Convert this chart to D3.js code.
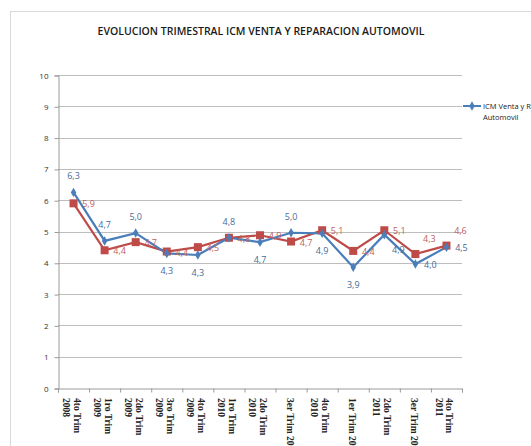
<!DOCTYPE html>
<meta charset="utf-8">
<style>
body { margin: 0; background: #fff; }
svg text { font-family: "Open Sans", "Liberation Sans", sans-serif; }
.xlab text { font-family: "Liberation Serif", "DejaVu Serif", serif; }
</style>
<svg width="531" height="446"></svg>
<script src="https://d3js.org/d3.v7.min.js"></script>
<script>

var categories = [
  ["4to Trim", "2008"], ["1ro Trim", "2009"], ["2do Trim", "2009"], ["3ro Trim", "2009"],
  ["4to Trim", "2009"], ["1ro Trim", "2010"], ["2do Trim", "2010"], ["3er Trim 2010"],
  ["4to Trim", "2010"], ["1er Trim 2011"], ["2do Trim", "2011"], ["3er Trim 2011"],
  ["4to Trim", "2011"]
];
var blueValues = [6.25, 4.7, 4.95, 4.3, 4.25, 4.8, 4.66, 4.96, 4.94, 3.86, 4.9, 3.96, 4.5];
var blueLabels = ["6,3", "4,7", "5,0", "4,3", "4,3", "4,8", "4,7", "5,0", "4,9", "3,9", "4,9", "4,0", "4,5"];
var redValues = [5.9, 4.4, 4.66, 4.36, 4.5, 4.8, 4.88, 4.68, 5.04, 4.38, 5.04, 4.28, 4.55];
var redLabels = ["5,9", "4,4", "4,7", "4,4", "4,5", "4,8", "4,9", "4,7", "5,1", "4,4", "5,1", "4,3", "4,6"];
var yTicks = [0, 1, 2, 3, 4, 5, 6, 7, 8, 9, 10];
var seriesName = ["ICM Venta y Reparacion", "Automovil"];

// where each label sits relative to its point
var bluePos = ["t", "t", "t", "b", "b", "t", "b", "t", "b", "b", "br", "r", "r"];
var redPos = ["r", "r", "r", "r", "r", "r", "r", "r", "r", "r", "r", "tr", "tr"];

var svg = d3.select("svg");
var blue = "#4a7ebb", red = "#be4b48";

svg.append("rect")
    .attr("x", 10.5).attr("y", 11.5)
    .attr("width", 600).attr("height", 500)
    .attr("fill", "#fff").attr("stroke", "#d9d9d9");

svg.append("text")
    .attr("x", 261).attr("y", 35)
    .attr("text-anchor", "middle")
    .attr("font-size", 10.5)
    .attr("font-weight", 600)
    .attr("fill", "#1a1a1a")
    .text("EVOLUCION TRIMESTRAL ICM  VENTA Y REPARACION AUTOMOVIL");

var plotLeft = 58, plotRight = 462, plotTop = 75, plotBottom = 388;

var x = d3.scaleBand()
    .domain(d3.range(categories.length))
    .range([plotLeft, plotRight]);

var y = d3.scaleLinear().domain([0, 10]).range([plotBottom, plotTop]);

// gridlines
svg.append("g")
  .selectAll("line")
  .data(yTicks.filter(d => d > 0))
  .enter().append("line")
    .attr("x1", plotLeft).attr("x2", plotRight)
    .attr("y1", d => Math.round(y(d)) + 0.5)
    .attr("y2", d => Math.round(y(d)) + 0.5)
    .attr("stroke", "#bdbdbd");

var yAxis = svg.append("g")
    .attr("transform", "translate(" + (plotLeft + 0.5) + ",0.5)")
    .call(d3.axisLeft(y).tickValues(yTicks).tickSize(4).tickPadding(6).tickFormat(d3.format("d")));
yAxis.select(".domain").attr("stroke", "#9a9a9a");
yAxis.selectAll(".tick line").attr("stroke", "#9a9a9a");
yAxis.selectAll(".tick text").attr("font-size", 8).attr("fill", "#333");

var xAxis = svg.append("g")
    .attr("transform", "translate(0," + (plotBottom + 0.5) + ")")
    .call(d3.axisBottom(d3.scaleLinear().domain([0, categories.length]).range([plotLeft, plotRight]))
      .tickValues(d3.range(categories.length + 1)).tickSize(4).tickFormat(""));
xAxis.select(".domain").attr("stroke", "#9a9a9a");
xAxis.selectAll(".tick line").attr("stroke", "#9a9a9a");

var xl = svg.append("g").attr("class", "xlab")
  .selectAll("text")
  .data(categories)
  .enter().append("text")
    .attr("transform", (d, i) => {
      var cx = x(i) + x.bandwidth() / 2 + (d.length > 1 ? 0 : -4);
      return "translate(" + cx + "," + (plotBottom + 10) + ") rotate(90)";
    })
    .attr("font-size", 9.5)
    .attr("font-weight", 600)
    .attr("fill", "#222");
xl.selectAll("tspan")
  .data(d => d)
  .enter().append("tspan")
    .attr("x", 0)
    .attr("dy", (d, i) => i === 0 ? "0" : "1.15em")
    .text(d => d);

var line = d3.line()
    .x((d, i) => x(i) + x.bandwidth() / 2)
    .y(d => y(d));

svg.append("path").datum(redValues)
    .attr("d", line).attr("fill", "none")
    .attr("stroke", red).attr("stroke-width", 2.2);

svg.append("path").datum(blueValues)
    .attr("d", line).attr("fill", "none")
    .attr("stroke", blue).attr("stroke-width", 2.2);

svg.append("g").selectAll("rect")
  .data(redValues)
  .enter().append("rect")
    .attr("x", (d, i) => x(i) + x.bandwidth() / 2 - 4)
    .attr("y", d => y(d) - 4)
    .attr("width", 8).attr("height", 8)
    .attr("fill", red);

var diamond = d3.symbol().type(d3.symbolDiamond).size(26);
svg.append("g").selectAll("path")
  .data(blueValues)
  .enter().append("path")
    .attr("transform", (d, i) => "translate(" + (x(i) + x.bandwidth() / 2) + "," + y(d) + ")")
    .attr("d", diamond)
    .attr("fill", blue);

function offset(p) {
  if (p === "t") return [0, -13];
  if (p === "b") return [0, 21];
  if (p === "r") return [15, 4];
  if (p === "br") return [14, 18];
  if (p === "tr") return [14, -12];
  return [0, 0];
}

svg.append("g").selectAll("text")
  .data(redValues)
  .enter().append("text")
    .attr("x", (d, i) => x(i) + x.bandwidth() / 2 + offset(redPos[i])[0])
    .attr("y", (d, i) => y(d) + offset(redPos[i])[1])
    .attr("text-anchor", "middle")
    .attr("font-size", 9)
    .attr("fill", "#c0605c")
    .text((d, i) => redLabels[i]);

svg.append("g").selectAll("text")
  .data(blueValues)
  .enter().append("text")
    .attr("x", (d, i) => x(i) + x.bandwidth() / 2 + offset(bluePos[i])[0])
    .attr("y", (d, i) => y(d) + offset(bluePos[i])[1])
    .attr("text-anchor", "middle")
    .attr("font-size", 9)
    .attr("fill", "#4a6a96")
    .text((d, i) => blueLabels[i]);

// legend
var lg = svg.append("g").attr("transform", "translate(463,106)");
lg.append("line").attr("x1", 0).attr("x2", 18).attr("stroke", blue).attr("stroke-width", 2);
lg.append("path").attr("transform", "translate(9,0)").attr("d", diamond).attr("fill", blue);
lg.append("text")
    .attr("x", 20).attr("y", 3)
    .attr("font-size", 7.5).attr("fill", "#222")
  .selectAll("tspan")
  .data(seriesName)
  .enter().append("tspan")
    .attr("x", 20)
    .attr("dy", (d, i) => i === 0 ? 0 : "1.4em")
    .text(d => d);

</script>
